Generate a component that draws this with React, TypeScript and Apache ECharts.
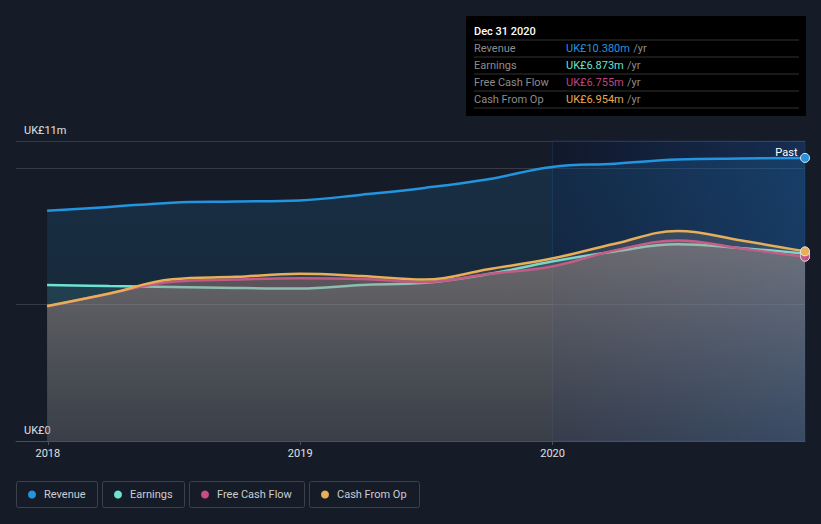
import React, { useEffect, useRef } from "react";
import * as echarts from "echarts";

const dates = [
  "2017-12-31", "2018-03-31", "2018-06-30", "2018-09-30", "2018-12-31",
  "2019-03-31", "2019-06-30", "2019-09-30", "2019-12-31",
  "2020-03-31", "2020-06-30", "2020-09-30", "2020-12-31",
];
const revenue = [8.44, 8.58, 8.74, 8.78, 8.82, 9.03, 9.28, 9.6, 10.05, 10.17, 10.32, 10.36, 10.38];
const earnings = [5.72, 5.68, 5.65, 5.61, 5.59, 5.72, 5.8, 6.12, 6.58, 6.95, 7.21, 7.07, 6.873];
const freeCashFlow = [4.93, 5.4, 5.84, 5.92, 5.97, 5.94, 5.83, 6.12, 6.4, 6.99, 7.35, 7.06, 6.755];
const cashFromOp = [4.95, 5.41, 5.93, 6.02, 6.13, 6.05, 5.92, 6.3, 6.69, 7.23, 7.7, 7.35, 6.954];

const seriesNames = ["Revenue", "Earnings", "Free Cash Flow", "Cash From Op"];
const seriesValues = [revenue, earnings, freeCashFlow, cashFromOp];
const lineColors = ["#2394df", "#6ee3d3", "#c94c85", "#e8ae58"];
const valueColors = ["#2394df", "#6ce0d0", "#c4437f", "#e7a94f"];
const tooltipTitle = "Dec 31 2020";
const pastStart = "2020-01-01";
const pastEnd = "2020-12-31";
const xMin = "2017-11-16";
const yMax = 11;
const yTickInterval = 5;

const areaFills = [
  ["rgba(35,148,223,0.22)", "rgba(35,148,223,0.10)"],
  ["rgba(114,229,215,0.20)", "rgba(114,229,215,0.06)"],
  ["rgba(205,135,125,0.47)", "rgba(150,110,105,0.25)"],
  ["rgba(180,165,150,0.30)", "rgba(130,115,110,0.15)"],
];

const fmt = (v: number) => `UK£${v.toFixed(3)}m`;

export default function App() {
  const ref = useRef<HTMLDivElement>(null);
  useEffect(() => {
    document.body.style.margin = "0";
    const chart = echarts.init(ref.current!, null, { renderer: "svg" });
    const last = dates.length - 1;

    const series: any[] = seriesNames.map((name, si) => ({
      name,
      type: "line",
      smooth: 0.4,
      symbol: "none",
      showSymbol: true,
      z: 2 + si,
      lineStyle: { color: lineColors[si], width: 2.5 },
      itemStyle: { color: lineColors[si], borderColor: "#e8e8e8", borderWidth: 1 },
      areaStyle: {
        color: new echarts.graphic.LinearGradient(0, 0, 0, 1, [
          { offset: 0, color: areaFills[si][0] },
          { offset: 1, color: areaFills[si][1] },
        ]),
        origin: "start",
      },
      data: dates.map((d, i) =>
        i === last
          ? { value: [d, seriesValues[si][i]], symbol: "circle", symbolSize: 9 }
          : { value: [d, seriesValues[si][i]] }
      ),
      ...(si === 0
        ? {
            markArea: {
              silent: true,
              itemStyle: {
                color: new echarts.graphic.LinearGradient(0, 0, 1, 0, [
                  { offset: 0, color: "rgba(5,15,55,0.30)" },
                  { offset: 1, color: "rgba(20,85,175,0.32)" },
                ]),
                borderColor: "rgba(40,90,160,0.25)",
                borderWidth: 1,
              },
              label: {
                show: true,
                position: "insideTopRight",
                color: "#ffffff",
                fontSize: 11,
                fontFamily: "Roboto",
                distance: 6,
                padding: [0, 2, 0, 0],
              },
              data: [[{ name: "Past", xAxis: pastStart }, { xAxis: pastEnd }]],
            },
          }
        : {}),
    }));

    const graphics: any[] = [];
    graphics.push({
      type: "rect",
      shape: { x: 466, y: 16, width: 340, height: 100 },
      style: { fill: "#000000" },
    });
    graphics.push({
      type: "text",
      x: 474,
      y: 31,
      style: { text: tooltipTitle, fill: "#ffffff", font: "500 11px Roboto", verticalAlign: "middle" },
    });
    const seps = [40, 57, 74, 91, 108];
    seps.forEach((y) =>
      graphics.push({
        type: "line",
        shape: { x1: 474, y1: y, x2: 799, y2: y },
        style: { stroke: "#333333", lineWidth: 1 },
      })
    );
    seriesNames.forEach((n, i) => {
      const y = 48.5 + i * 17;
      graphics.push({
        type: "text",
        x: 474,
        y,
        style: { text: n, fill: "#8c8c8c", font: "11px Roboto", verticalAlign: "middle" },
      });
      graphics.push({
        type: "text",
        x: 566,
        y,
        style: {
          text: `{v|${fmt(seriesValues[i][last])}} {u|/yr}`,
          verticalAlign: "middle",
          rich: {
            v: { fill: valueColors[i], font: "11px Roboto" },
            u: { fill: "#8c8c8c", font: "11px Roboto" },
          },
        },
      });
    });
    const boxes = [
      [16.5, 81],
      [102.5, 82],
      [189.5, 115],
      [309.5, 110],
    ];
    seriesNames.forEach((n, i) => {
      const [bx, bw] = boxes[i];
      graphics.push({
        type: "rect",
        shape: { x: bx, y: 481.5, width: bw, height: 26, r: 2 },
        style: { fill: "transparent", stroke: "#3b424d", lineWidth: 1 },
      });
      graphics.push({
        type: "circle",
        shape: { cx: bx + 15.5, cy: 494.5, r: 4 },
        style: { fill: lineColors[i] },
      });
      graphics.push({
        type: "text",
        x: bx + 27.5,
        y: 494.5,
        style: { text: n, fill: "#c9cdd3", font: "11px Roboto", verticalAlign: "middle" },
      });
    });

    chart.setOption({
      animation: false,
      backgroundColor: "#161c27",
      grid: { left: 16, right: 16, top: 141, bottom: 83 },
      xAxis: {
        type: "time",
        min: xMin,
        max: pastEnd,
        minInterval: 364 * 24 * 3600 * 1000,
        axisLine: { lineStyle: { color: "#4a515c" } },
        axisTick: { show: true, length: 4, lineStyle: { color: "#4a515c" } },
        axisLabel: {
          color: "#e0e0e0",
          fontSize: 11,
          fontFamily: "Roboto",
          margin: 7,
          formatter: (v: number) => String(new Date(v).getFullYear()),
        },
        splitLine: { show: false },
      },
      yAxis: {
        type: "value",
        min: 0,
        max: yMax,
        interval: yTickInterval,
        axisLine: { show: false },
        axisTick: { show: false },
        splitLine: { lineStyle: { color: "#363c47", width: 1 } },
        axisLabel: {
          inside: true,
          verticalAlign: "bottom",
          margin: 8,
          padding: [0, 0, 5, 0],
          color: "#e0e0e0",
          fontSize: 11,
          fontFamily: "Roboto",
          formatter: (v: number) => (v === 0 ? "UK£0" : v === yMax ? `UK£${yMax}m` : ""),
        },
      },
      series,
      graphic: graphics,
    });
    return () => chart.dispose();
  }, []);
  return (
    <div
      ref={ref}
      style={{ position: "fixed", left: 0, top: 0, width: 821, height: 524 }}
    />
  );
}
